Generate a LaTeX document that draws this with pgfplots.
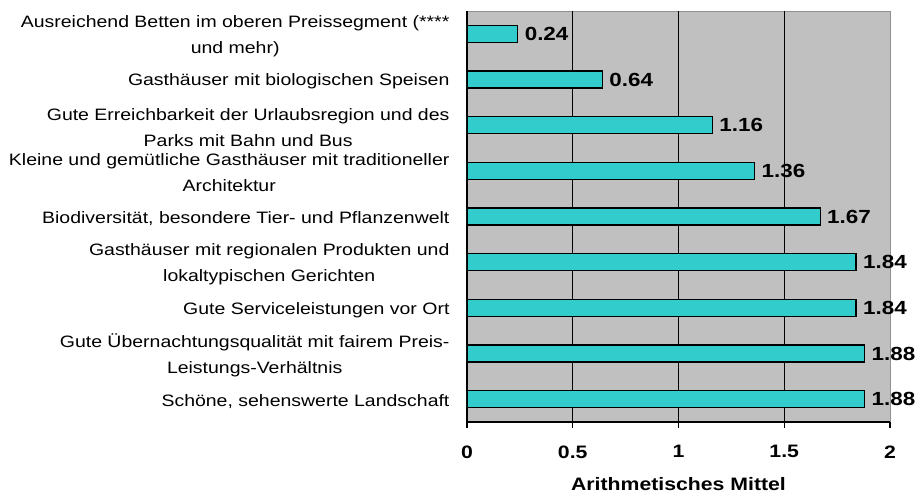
\documentclass[border=0pt]{standalone}
\usepackage{fontspec}
\setmainfont{Liberation Sans}[FakeStretch=1.18]
\usepackage{pgfplots}
\pgfplotsset{compat=1.18}
\definecolor{barfill}{HTML}{33CCCC}
\definecolor{bgray}{HTML}{C0C0C0}
\definecolor{frame}{HTML}{909090}
\begin{document}
\begin{tikzpicture}
\begin{axis}[
  scale only axis,
  width=423pt, height=411pt,
  xbar, bar width=17pt,
  xmin=0, xmax=2,
  ymin=-0.5, ymax=8.5,
  y dir=reverse,
  axis lines*=left,
  x axis line style={-, line width=1.4pt},
  y axis line style={-, line width=1.4pt},
  axis background/.style={fill=bgray, draw=frame, line width=0.8pt},
  xtick={0,0.5,1,1.5,2},
  xticklabels={0,0.5,1,1.5,2},
  extra x ticks={0.5,1,1.5},
  extra x tick labels={},
  extra x tick style={grid=major, major tick length=0pt},
  major grid style={black, line width=1.4pt},
  tick align=outside,
  tick style={black, line width=1.4pt},
  major tick length=6pt,
  xticklabel style={font=\fontsize{18}{20}\selectfont\bfseries, yshift=-14pt},
  ytick={0,...,8},
  yticklabels={
    {Ausreichend Betten im oberen Preissegment (****\\und mehr)},
    {Gasthäuser mit biologischen Speisen},
    {Gute Erreichbarkeit der Urlaubsregion und des\\Parks mit Bahn und Bus},
    {Kleine und gemütliche Gasthäuser mit traditioneller\\Architektur},
    {Biodiversität, besondere Tier- und Pflanzenwelt},
    {Gasthäuser mit regionalen Produkten und\\lokaltypischen Gerichten},
    {Gute Serviceleistungen vor Ort},
    {Gute Übernachtungsqualität mit fairem Preis-\\Leistungs-Verhältnis},
    {Schöne, sehenswerte Landschaft}},
  ytick style={draw=none},
  minor ytick={-0.5,0.5,1.5,2.5,3.5,4.5,5.5,6.5,7.5,8.5},
  minor tick length=6pt,
  minor y tick style={black, line width=1.4pt},
  yticklabel style={font=\fontsize{16.5}{26}\selectfont, align=center, xshift=-8pt, yshift=-2pt},
  xlabel={Arithmetisches Mittel},
  xlabel style={font=\fontsize{18}{20}\selectfont\bfseries, yshift=-6pt},
  nodes near coords={\pgfmathprintnumber[fixed,precision=2,fixed zerofill]{\pgfplotspointmeta}},
  nodes near coords align={horizontal},
  every node near coord/.append style={font=\fontsize{19}{22}\selectfont\bfseries, xshift=3pt},
  /pgf/number format/assume math mode=true,
]
\addplot[fill=barfill, draw=black, line width=1.4pt] coordinates {
  (0.24,0) (0.64,1) (1.16,2) (1.36,3) (1.67,4) (1.84,5) (1.84,6) (1.88,7) (1.88,8)
};
\end{axis}
\pgfresetboundingbox
\path[use as bounding box] ([xshift=-467pt,yshift=-74pt]current axis.south west) rectangle ([xshift=454pt,yshift=411pt+11pt]current axis.south west);
\end{tikzpicture}
\end{document}
